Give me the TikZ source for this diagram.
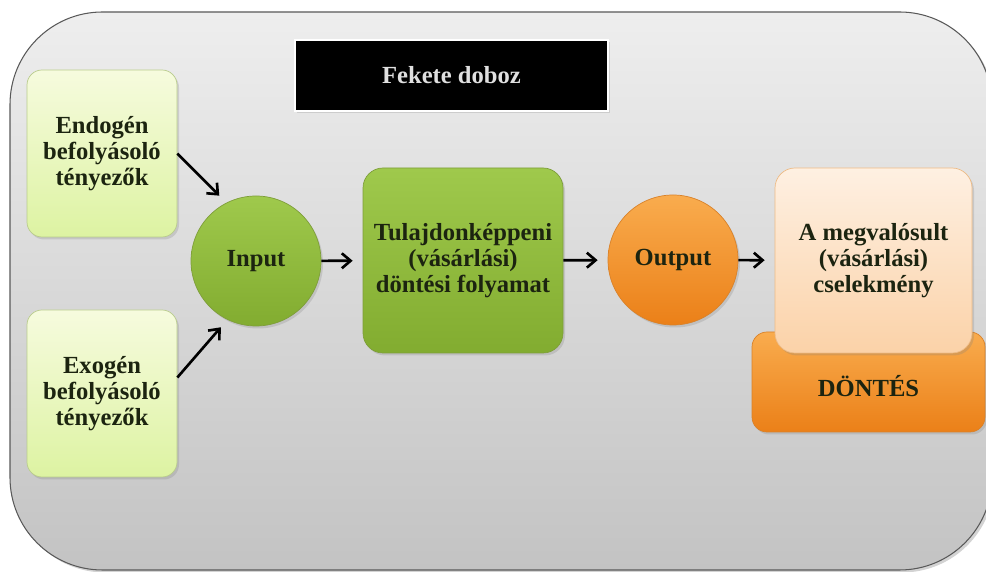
\documentclass[tikz,border=0pt]{standalone}
\usepackage{fontspec}
\setmainfont{Liberation Serif}
\usetikzlibrary{arrows.meta,shadows}

\definecolor{frametop}{HTML}{EEEEEE}
\definecolor{framebot}{HTML}{C3C3C3}
\definecolor{limetop}{HTML}{F6FBDE}
\definecolor{limebot}{HTML}{DDF3A2}
\definecolor{limeline}{HTML}{B9CC8C}
\definecolor{greentop}{HTML}{9FC94C}
\definecolor{greenbot}{HTML}{82AC30}
\definecolor{greenline}{HTML}{7E9E3A}
\definecolor{orangetop}{HTML}{F9AC4E}
\definecolor{orangebot}{HTML}{EB8018}
\definecolor{orangeline}{HTML}{D9822A}
\definecolor{peachtop}{HTML}{FEF0E2}
\definecolor{peachbot}{HTML}{FBD2A8}
\definecolor{peachline}{HTML}{EDBB86}
\definecolor{darktext}{HTML}{1C2410}

\begin{document}
\begin{tikzpicture}[
	every node/.style={font=\bfseries\fontsize{14}{14.8}\selectfont, align=center, text=darktext},
	softshadow/.style={drop shadow={opacity=0.25, shadow xshift=0.04cm, shadow yshift=-0.05cm}},
	frame/.style={draw=black!65, line width=0.6pt, rounded corners=1.85cm, top color=frametop, bottom color=framebot, drop shadow={opacity=0.35, shadow xshift=0.05cm, shadow yshift=-0.05cm}},
	titlebox/.style={fill=black, draw=white, line width=1.5pt, minimum width=6.26cm, minimum height=1.42cm, text=black!12, softshadow},
	factor/.style={draw=limeline, rounded corners=0.3cm, top color=limetop, bottom color=limebot, minimum width=3cm, minimum height=3.34cm, softshadow},
	ball/.style={circle, inner sep=0pt, minimum size=2.6cm, softshadow},
	greenball/.style={ball, draw=greenline, top color=greentop, bottom color=greenbot},
	orangeball/.style={ball, draw=orangeline, top color=orangetop, bottom color=orangebot},
	process/.style={draw=greenline, rounded corners=0.4cm, top color=greentop, bottom color=greenbot, minimum width=4cm, minimum height=3.7cm, softshadow},
	result/.style={draw=peachline, rounded corners=0.4cm, top color=peachtop, bottom color=peachbot, minimum width=3.94cm, minimum height=3.7cm, softshadow},
	decision/.style={draw=orangeline, rounded corners=0.3cm, top color=orangetop, bottom color=orangebot, minimum width=4.66cm, minimum height=2cm, text height=0.57cm, softshadow},
	arr/.style={-{Straight Barb[length=5pt, width=8.5pt]}, line width=1.5pt, shorten >=0.2cm}
]
	\useasboundingbox (0, 0) rectangle (19.72, 11.44);

	\draw[frame] (0.2, 0.04) rectangle (19.84, 11.2);

	\node[titlebox] (title) at (9.03, 9.93) {Fekete doboz};

	\node[factor] (endo) at (2.04, 8.37) {Endogén\\befolyásoló\\tényezők};
	\node[factor] (exo) at (2.04, 3.57) {Exogén\\befolyásoló\\tényezők};

	\node[greenball] (input) at (5.12, 6.22) {Input};
	\node[process] (tulaj) at (9.26, 6.23) {Tulajdonképpeni\\(vásárlási)\\döntési folyamat};
	\node[orangeball] (output) at (13.46, 6.24) {Output};

	\node[decision] (dontes) at (17.37, 3.8) {DÖNTÉS};
	\node[result] (cselekmeny) at (17.47, 6.23) {A megvalósult\\(vásárlási)\\cselekmény};

	\draw[arr] (endo.east) -- (input.117);
	\draw[arr] (exo.12) -- (input.244);
	\draw[arr] (input) -- (tulaj);
	\draw[arr] (tulaj) -- (output);
	\draw[arr] (output) -- (cselekmeny);

\end{tikzpicture}
\end{document}
